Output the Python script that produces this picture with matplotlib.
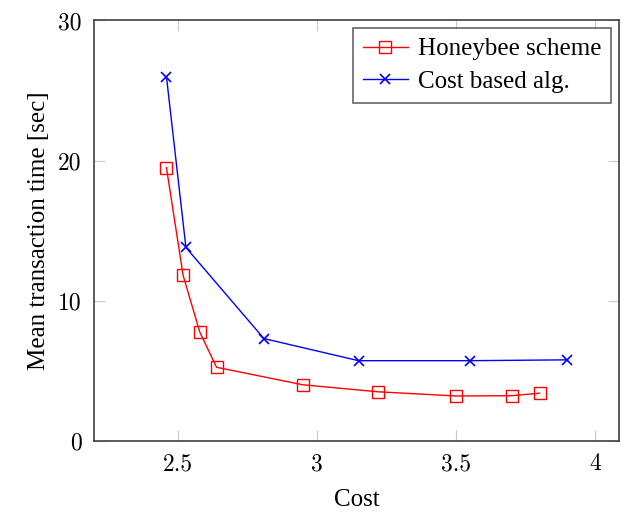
import numpy as np
import matplotlib
matplotlib.use("Agg")
import matplotlib.pyplot as plt
from matplotlib.ticker import FuncFormatter

# values
honey_cost = [2.46, 2.52, 2.58, 2.64, 2.95, 3.22, 3.50, 3.70, 3.80]
honey_time = [19.5, 11.8, 7.75, 5.25, 4.0, 3.5, 3.2, 3.22, 3.4]
cost_cost = [2.46, 2.53, 2.81, 3.15, 3.55, 3.90]
cost_time = [26.0, 13.8, 7.3, 5.72, 5.72, 5.78]

x_ticks = [2.5, 3, 3.5, 4]
y_ticks = [0, 10, 20, 30]

plt.rcParams['font.family'] = ['Liberation Serif', 'DejaVu Serif']
plt.rcParams['axes.unicode_minus'] = False


def tick_fmt(v, pos):
    return '%g' % v


def main():
    fig = plt.figure(figsize=(6.27, 5.12), dpi=100)
    ax = fig.add_axes([0.150, 0.139, 0.837, 0.821])

    ax.plot(honey_cost, honey_time, color='#ff0000', lw=1.0, marker='s',
            markersize=8, markerfacecolor='none', markeredgewidth=1.0,
            label='Honeybee scheme')
    ax.plot(cost_cost, cost_time, color='#0000ff', lw=1.0, marker='x',
            markersize=6.5, markeredgewidth=1.2,
            label='Cost based alg.')

    ax.set_xlim(2.2, 4.085)
    ax.set_ylim(0, 30)
    ax.set_xticks(x_ticks)
    ax.set_yticks(y_ticks)
    ax.xaxis.set_major_formatter(FuncFormatter(tick_fmt))
    ax.yaxis.set_major_formatter(FuncFormatter(tick_fmt))

    ax.tick_params(direction='in', length=8, width=0.8, color='#c8c8c8',
                   top=True, right=True, labelsize=17, pad=9)
    #computer modern look for the numbers
    for lab in ax.get_xticklabels() + ax.get_yticklabels():
        lab.set_fontfamily('cmr10')
    for sp in ax.spines.values():
        sp.set_color('#404040')
        sp.set_linewidth(1.2)

    ax.set_xlabel('Cost', fontsize=18, labelpad=10)
    ax.set_ylabel('Mean transaction time [sec]', fontsize=18, labelpad=6)

    leg = ax.legend(loc='upper right', fontsize=18, frameon=True, fancybox=False,
                    handlelength=1.8, borderaxespad=0.3, borderpad=0.4,
                    labelspacing=0.4, handletextpad=0.4)
    leg.get_frame().set_edgecolor('#404040')
    leg.get_frame().set_linewidth(1.2)

    fig.savefig('out.png', dpi=100)


if __name__ == "__main__":
    main()
